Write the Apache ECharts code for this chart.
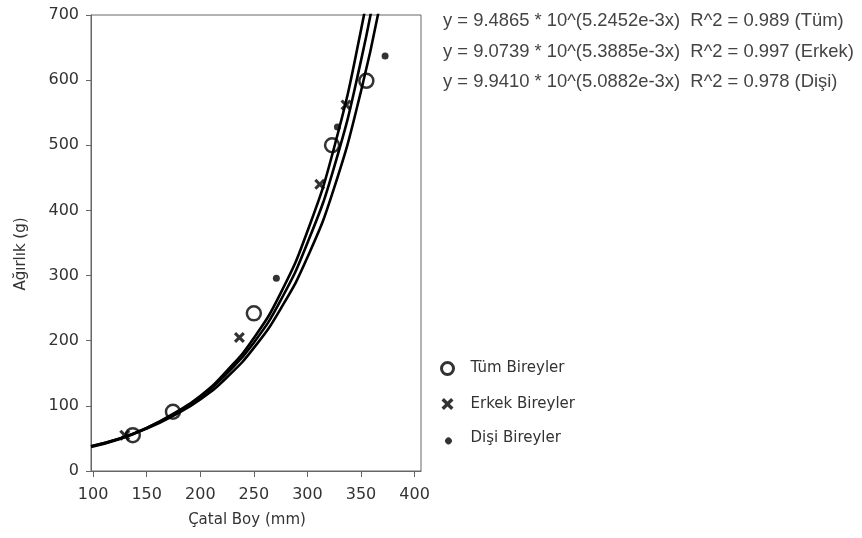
<!DOCTYPE html>
<html>
<head>
<meta charset="utf-8">
<script src="https://cdn.jsdelivr.net/npm/echarts@6/dist/echarts.min.js"></script>
<style>html,body{margin:0;padding:0;background:#fff}#c{width:862px;height:538px}</style>
</head>
<body>
<div id="c"></div>
<script>
// Fit curves (x = fork length mm, y = weight g)
const curveX      = [98, 125, 150, 175, 200, 225, 250, 275, 300, 325, 350, 368];
const curveTum    = [38, 50, 66, 87, 113, 150, 197, 262, 350, 467, 630, 784];
const curveErkek  = [37, 49, 66, 88, 115, 154, 204, 273, 368, 497, 677, 846];
const curveDisi   = [38, 50, 65, 85, 110, 144, 189, 249, 328, 435, 583, 719];
// Observed points
const tumX   = [137, 174.5, 250, 323, 355];
const tumY   = [55, 91, 242, 500, 599];
const erkekX = [129.5, 236.5, 311.5, 336];
const erkekY = [55, 205, 440, 562];
const disiX  = [271, 328, 372.5];
const disiY  = [296, 528, 637];
const xTicks = [100, 150, 200, 250, 300, 350, 400];
const equations = [
  'y = 9.4865 * 10^(5.2452e-3x)  R^2 = 0.989 (Tüm)',
  'y = 9.0739 * 10^(5.3885e-3x)  R^2 = 0.997 (Erkek)',
  'y = 9.9410 * 10^(5.0882e-3x)  R^2 = 0.978 (Dişi)'
];
const legendNames = ['Tüm Bireyler', 'Erkek Bireyler', 'Dişi Bireyler'];

const zip = (a, b) => a.map((v, i) => [v, b[i]]);
const crossPath = 'path://M2,0 L5,3 L8,0 L10,2 L7,5 L10,8 L8,10 L5,7 L2,10 L0,8 L3,5 L0,2 Z';
const smallDotPath = 'path://M0,0 L0.001,0 Z M12,12 L12.001,12 Z M9.4,6 A3.4,3.4 0 1 1 9.39,5.99 Z';
const FONT = 'DejaVu Sans';

const chart = echarts.init(document.getElementById('c'));
const lineSeries = (d) => ({
  type: 'line', data: zip(curveX, d), smooth: true, showSymbol: false, symbol: 'none',
  lineStyle: { color: '#000', width: 2.6 }, clip: true, silent: true, z: 2
});
chart.setOption({
  animation: false,
  backgroundColor: '#fff',
  grid: { left: 91, right: 441, top: 15, bottom: 67, show: true, borderColor: '#666', borderWidth: 1 },
  xAxis: {
    type: 'value', min: 98, max: 406,
    name: 'Çatal Boy (mm)', nameLocation: 'middle', nameGap: 42,
    nameTextStyle: { fontFamily: FONT, fontSize: 15, color: '#333', padding: [0, 18, 0, 0] },
    axisLine: { show: true, lineStyle: { color: '#666' } },
    axisTick: { show: true, length: 6, customValues: xTicks, lineStyle: { color: '#666' } },
    axisLabel: { customValues: xTicks, fontFamily: FONT, fontSize: 16, color: '#333', margin: 16 },
    splitLine: { show: false }
  },
  yAxis: {
    type: 'value', min: 0, max: 700, interval: 100,
    name: 'Ağırlık (g)', nameLocation: 'middle', nameGap: 62,
    nameTextStyle: { fontFamily: FONT, fontSize: 15, color: '#333', padding: [0, 22, 0, 0] },
    axisLine: { show: true, lineStyle: { color: '#666' } },
    axisTick: { show: true, length: 5, lineStyle: { color: '#666' } },
    axisLabel: { fontFamily: FONT, fontSize: 16, color: '#333', margin: 12 },
    splitLine: { show: false }
  },
  legend: {
    orient: 'vertical', left: 434, top: 355, itemWidth: 12, itemHeight: 12, itemGap: 19.5,
    textStyle: { fontFamily: FONT, fontSize: 15, color: '#333', padding: [0, 0, 0, 12] },
    data: [
      { name: legendNames[0], icon: 'circle', itemStyle: { color: 'none', borderColor: '#000', borderWidth: 3 } },
      { name: legendNames[1], icon: crossPath, itemStyle: { color: '#000', borderWidth: 0 } },
      { name: legendNames[2], icon: smallDotPath, itemStyle: { color: '#000', borderWidth: 0 } }
    ]
  },
  graphic: equations.map((t, i) => ({
    type: 'text', left: 443, top: 12 + i * 30.5, silent: true,
    style: { text: t, fontFamily: 'Liberation Sans', fontSize: 18.4, fill: '#444' }
  })),
  series: [
    lineSeries(curveTum), lineSeries(curveErkek), lineSeries(curveDisi),
    { name: legendNames[0], type: 'scatter', data: zip(tumX, tumY), symbol: 'circle', symbolSize: 14,
      itemStyle: { color: 'none', borderColor: '#000', borderWidth: 2.5 }, z: 5 },
    { name: legendNames[1], type: 'scatter', data: zip(erkekX, erkekY), symbol: crossPath, symbolSize: 11,
      itemStyle: { color: '#000' }, z: 5 },
    { name: legendNames[2], type: 'scatter', data: zip(disiX, disiY), symbol: 'circle', symbolSize: 7,
      itemStyle: { color: '#000' }, z: 5 }
  ]
});
</script>
</body>
</html>
